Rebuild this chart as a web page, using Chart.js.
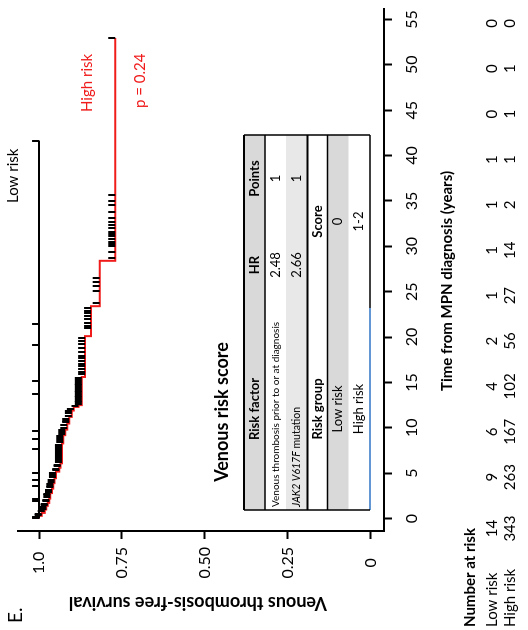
<!DOCTYPE html>
<html>
<head>
<meta charset="UTF-8">
<title>Venous thrombosis-free survival</title>
<script src="https://cdn.jsdelivr.net/npm/chart.js"></script>
<style>
    html, body { margin: 0; padding: 0; background: #fff; overflow: hidden; }
    /* the figure is drawn upright, then turned a quarter to the left */
    #wrap {
        position: absolute; left: 0; top: 0;
        width: 630px; height: 528px;
        transform-origin: 0 0;
        transform: translate(0, 630px) rotate(-90deg);
    }
</style>
</head>
<body>
<div id="wrap"><canvas id="kmChart" width="630" height="528"></canvas></div>
<script>
// axis ticks
const timeTicks = [0, 5, 10, 15, 20, 25, 30, 35, 40, 45, 50, 55];
const survTicks = [0, 0.25, 0.5, 0.75, 1];
const survLabels = ['0', '0.25', '0.50', '0.75', '1.0'];

// Kaplan-Meier steps (years, survival)
const highTimes = [0, 0.3, 0.62, 1.0, 1.4, 1.72, 2.2, 2.81, 3.3, 3.9, 4.45, 5.17, 5.6, 6.09, 8.28, 9.19, 9.8, 10.47, 11.2, 11.9, 12.3, 12.5, 15.6, 20.1, 23.4, 28.4, 52.95];
const highSurv  = [1, 0.992, 0.983, 0.978, 0.974, 0.969, 0.966, 0.961, 0.957, 0.953, 0.949, 0.939, 0.935, 0.931, 0.927, 0.921, 0.915, 0.909, 0.901, 0.895, 0.881, 0.871, 0.861, 0.843, 0.817, 0.770, 0.770];
const lowTimes = [0, 41.65];
const lowSurv  = [1, 1];

// censoring times
const highCensor = [0.15, 0.4, 0.55, 0.8, 1.1, 1.25, 1.5, 1.65, 1.9, 2.05, 2.35, 2.55, 2.7, 2.95, 3.15, 3.45, 3.6, 3.8, 4.05, 4.25, 4.6, 4.8, 5.0, 5.3, 5.5, 5.75, 5.95, 6.25, 6.45, 6.65, 6.9, 7.1, 7.3, 7.55, 7.75, 7.95, 8.15, 8.45, 8.65, 8.9, 9.05, 9.35, 9.55, 9.75, 10.0, 10.3, 10.6, 10.8, 11.0, 11.35, 11.6, 11.8, 12.05, 12.4,
    12.65, 12.85, 13.0, 13.2, 13.4, 13.55, 13.75, 13.95, 14.1, 14.3, 14.5, 14.7, 14.85, 15.05, 15.25, 15.45,
    15.9, 16.1, 16.5, 16.8, 17.0, 17.4, 17.7, 17.9, 18.4, 18.8, 19.2, 19.6, 19.9,
    21.0, 21.2, 21.6, 22.0, 22.3, 22.7, 22.9, 23.2,
    23.8, 25.1, 25.6, 26.1, 26.5,
    28.7, 29.4, 30.0, 30.2, 30.5, 30.8, 31.1, 31.3, 31.6, 32.0, 32.4, 32.7, 33.1, 33.8, 34.5, 35.0, 35.6, 52.95];
const lowCensor = [0.1, 1.9, 2.2, 3.6, 4.3, 5.0, 7.7, 8.75, 9.7, 13.75, 15.2, 19.1, 21.4, 41.65];

// number at risk
const atRiskLow  = [14, 9, 6, 4, 2, 1, 1, 1, 1, 0, 0, 0];
const atRiskHigh = [343, 263, 167, 102, 56, 27, 14, 2, 1, 1, 1, 0];

// inset score table
const factorItalic = ['', 'JAK2 V617F'];
const factorText = ['Venous thrombosis prior to or at diagnosis', ' mutation'];
const factorHR = ['2.48', '2.66'];
const factorPoints = ['1', '1'];
const groupNames = ['Low risk', 'High risk'];
const groupScores = ['0', '1-2'];
const pText = 'p = 0.24';

const RED = '#f01c1c';
const FONT = 'Lato, sans-serif';

function survAt(times, surv, t) {
    let s = surv[0];
    for (let i = 0; i < times.length; i++) {
        if (times[i] <= t) s = surv[i];
    }
    return s;
}
function pts(times, surv) {
    return times.map(function(t, i) { return {x: t, y: surv[i]}; });
}
function censorPts(list, times, surv) {
    return list.map(function(t) { return {x: t, y: survAt(times, surv, t)}; });
}

// censor mark: a short tick that stands up from the curve
const mark = document.createElement('canvas');
mark.width = 2; mark.height = 16;
const mctx = mark.getContext('2d');
mctx.fillStyle = '#000';
mctx.fillRect(0, 1, 2, 7);

const annotate = {
    id: 'annotate',
    afterDraw(chart) {
        const c = chart.ctx;
        const xs = chart.scales.x;
        c.save();
        c.textBaseline = 'middle';
        c.fillStyle = '#000';

        c.font = '19px ' + FONT;
        c.textAlign = 'left';
        c.fillText('E.', 7, 16);

        c.font = 'bold 15px ' + FONT;
        c.textAlign = 'center';
        c.fillText('Time from MPN diagnosis (years)', 349, 447);

        // y title, reads bottom to top
        c.save();
        c.translate(27, 198);
        c.rotate(-Math.PI / 2);
        c.font = 'bold 18px ' + FONT;
        c.fillText('Venous thrombosis-free survival', 0, 0);
        c.restore();

        // curve labels
        c.font = '15px ' + FONT;
        c.textAlign = 'left';
        c.fillText('Low risk', 427, 13);
        c.fillStyle = RED;
        c.fillText('High risk', 518, 87);
        c.fillText(pText, 522, 140);

        // number at risk
        c.fillStyle = '#000';
        c.font = 'bold 15px ' + FONT;
        c.fillText('Number at risk', 3, 470);
        c.font = '15px ' + FONT;
        c.fillText('Low risk', 3, 492);
        c.fillText('High risk', 3, 510);
        c.textAlign = 'center';
        timeTicks.forEach(function(t, i) {
            const px = xs.getPixelForValue(t) - (i === 0 ? 10 : 4);
            c.fillText(String(atRiskLow[i]), px, 492);
            c.fillText(String(atRiskHigh[i]), px, 510);
        });

        // inset table
        const L = 120, R = 495, C1 = 322, C2 = 408;
        const rows = [244, 265, 286, 307.5, 327.5, 348.5, 370];
        c.fillStyle = '#d9d9d9';
        c.fillRect(L, rows[0], R - L, rows[1] - rows[0]);
        c.fillRect(L, rows[4], R - L, rows[5] - rows[4]);
        c.fillStyle = '#e8e8e8';
        c.fillRect(L, rows[2], R - L, rows[3] - rows[2]);

        c.fillStyle = '#000';
        c.font = 'bold 18px ' + FONT;
        c.textAlign = 'center';
        c.fillText('Venous risk score', 218, 222);

        function mid(i) { return (rows[i] + rows[i + 1]) / 2; }
        c.font = 'bold 13px ' + FONT;
        c.fillText('Risk factor', (L + C1) / 2, mid(0));
        c.fillText('HR', (C1 + C2) / 2, mid(0));
        c.fillText('Points', (C2 + R) / 2, mid(0));
        c.fillText('Risk group', (L + C1) / 2, mid(3));
        c.fillText('Score', (C1 + R) / 2, mid(3));

        c.font = '13px ' + FONT;
        for (let i = 0; i < 2; i++) {
            c.textAlign = 'center';
            c.fillText(factorHR[i], (C1 + C2) / 2, mid(1 + i));
            c.fillText(factorPoints[i], (C2 + R) / 2, mid(1 + i));
            c.fillText(groupNames[i], (L + C1) / 2, mid(4 + i));
            c.fillText(groupScores[i], (C1 + R) / 2, mid(4 + i));
            c.textAlign = 'left';
            let tx = L + 3;
            if (factorItalic[i]) {
                c.font = 'italic 10.5px ' + FONT;
                c.fillText(factorItalic[i], tx, mid(1 + i));
                tx += c.measureText(factorItalic[i]).width;
            }
            c.font = (i === 0 ? '10px ' : '10.5px ') + FONT;
            c.fillText(factorText[i], tx, mid(1 + i));
            c.font = '13px ' + FONT;
        }

        function hline(y, x0, x1, w, col) {
            c.beginPath(); c.lineWidth = w; c.strokeStyle = col || '#000';
            c.moveTo(x0, y); c.lineTo(x1, y); c.stroke();
        }
        hline(rows[0], L, R, 2);
        hline(rows[1], L, R, 1.5);
        hline(rows[3], L, R, 2);
        hline(rows[4], L, R, 1.5);
        hline(rows[6], L, C1, 1.5, '#2e75c6');
        hline(rows[6], C1, R, 1.5);
        c.beginPath(); c.lineWidth = 1.5; c.strokeStyle = '#000';
        c.moveTo(L, rows[0]); c.lineTo(L, rows[6]);
        c.moveTo(R, rows[0]); c.lineTo(R, rows[6]);
        c.stroke();
        c.restore();
    }
};

Chart.defaults.font.family = FONT;
Chart.defaults.color = '#000';

new Chart(document.getElementById('kmChart'), {
    type: 'line',
    data: {
        datasets: [
            {
                type: 'scatter', data: censorPts(highCensor, highTimes, highSurv),
                pointStyle: mark, pointRadius: 4, showLine: false
            },
            {
                type: 'scatter', data: censorPts(lowCensor, lowTimes, lowSurv),
                pointStyle: mark, pointRadius: 4, showLine: false
            },
            {
                label: 'Low risk', data: pts(lowTimes, lowSurv),
                borderColor: '#000', borderWidth: 2, pointRadius: 0, stepped: 'before', fill: false
            },
            {
                label: 'High risk', data: pts(highTimes, highSurv),
                borderColor: RED, borderWidth: 2, pointRadius: 0, stepped: 'before', fill: false
            }
        ]
    },
    options: {
        responsive: false,
        animation: false,
        events: [],
        layout: { padding: { top: 8, right: 5, left: 0, bottom: 0 } },
        plugins: { legend: { display: false }, tooltip: { enabled: false } },
        scales: {
            x: {
                type: 'linear', min: -1.37, max: 56.24,
                afterFit(s) { s.height = 144; },
                afterBuildTicks(s) { s.ticks = timeTicks.map(function(v) { return {value: v}; }); },
                grid: { drawOnChartArea: false, tickLength: 8, tickWidth: 2, color: '#000' },
                border: { display: true, color: '#000', width: 2 },
                ticks: { padding: 10, autoSkip: false, maxRotation: 0, font: { size: 16 } }
            },
            y: {
                type: 'linear', min: -0.0412, max: 1.0647,
                afterFit(s) { s.width = 99; },
                afterBuildTicks(s) { s.ticks = survTicks.map(function(v) { return {value: v}; }); },
                grid: { drawOnChartArea: false, tickLength: 8, tickWidth: 2, color: '#000' },
                border: { display: true, color: '#000', width: 2 },
                ticks: {
                    padding: 8, crossAlign: 'center', font: { size: 16 },
                    callback: function(v, i) { return survLabels[i]; }
                }
            }
        }
    },
    plugins: [annotate]
});
</script>
</body>
</html>
